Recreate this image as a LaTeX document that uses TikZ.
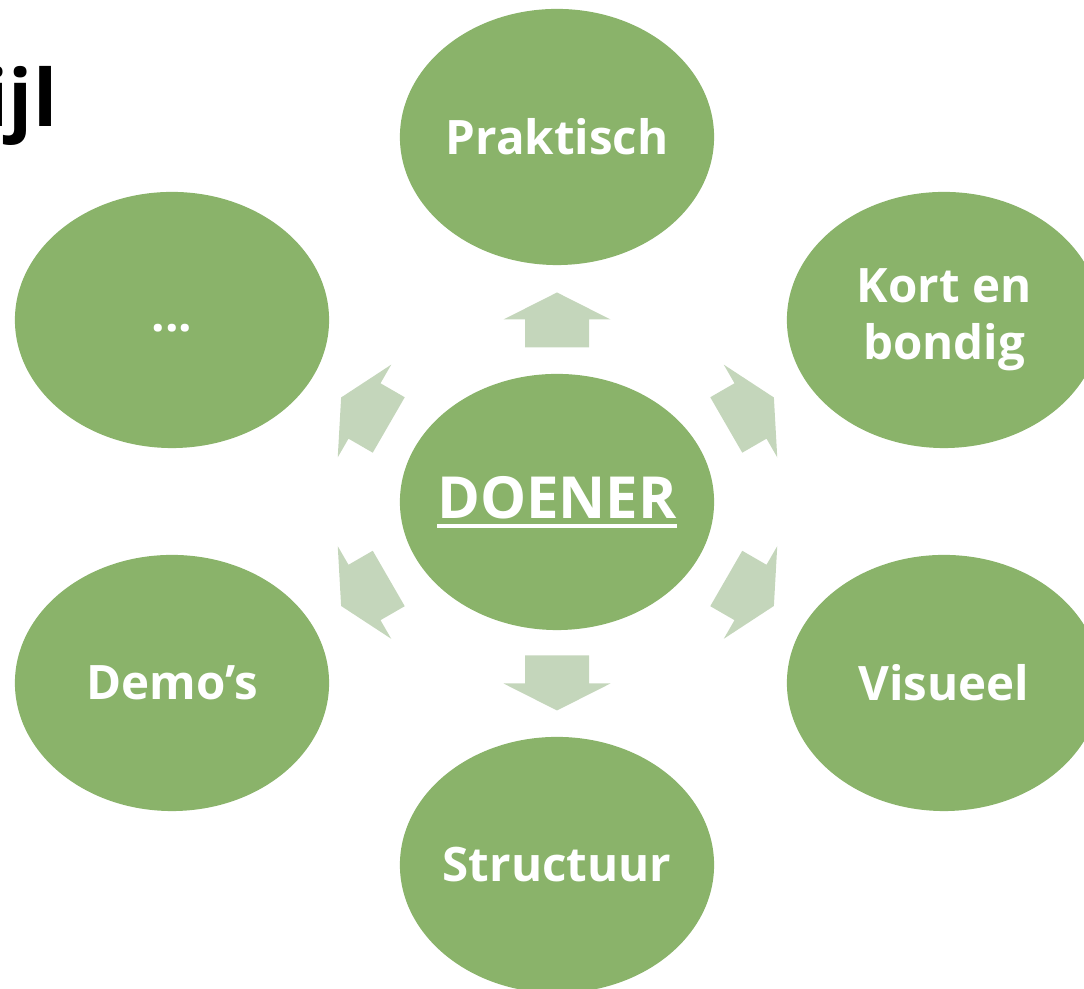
\documentclass[tikz,border=0pt]{standalone}
\usepackage{fontspec}
\setmainfont{Open Sans}
\usetikzlibrary{shapes.geometric,calc}
\definecolor{leafgreen}{HTML}{8AB36A}
\definecolor{palegreen}{HTML}{C4D6BB}
\tikzset{
	bol/.style={ellipse, fill=leafgreen, text=white, minimum width=3.14cm, minimum height=2.56cm, inner xsep=-8pt, inner ysep=0pt, align=center, font=\fontsize{13.5}{16.2}\selectfont\bfseries},
	pijl/.pic={\fill[palegreen] (-28,-32) -- (0,-32) -- (0,-53.5) -- (27,0) -- (0,53.5) -- (0,32) -- (-28,32) -- cycle;}
}
\newcommand\ulword[1]{\setbox0\hbox{#1}\rlap{\rule[-2.8pt]{\wd0}{1pt}}\box0}
\begin{document}
\begin{tikzpicture}[x=0.01cm,y=0.01cm]
		\useasboundingbox (0,0) rectangle (1084,989);
		\node(titel)[anchor=base east, inner sep=0pt, font=\fontsize{22.5}{27}\selectfont\bfseries] at (58,862) {ijl};

		\node(doener)[bol] at (557,487) {\fontsize{16.5}{19}\selectfont\ulword{DOENER}};
		\node(praktisch)[bol] at (557,852) {Praktisch};
		\node(kort)[bol] at (944,669) {Kort en\\bondig};
		\node(visueel)[bol] at (944,306) {Visueel};
		\node(structuur)[bol] at (557,124) {Structuur};
		\node(demos)[bol] at (172,306) {Demo’s};
		\node(meer)[bol] at (172,669) {...\vphantom{Kg}};

		\pic[rotate=90] at ($(doener)!0.5!(praktisch)$) {pijl};
		\pic[rotate=30] at ($(doener)!0.5!(kort)$) {pijl};
		\pic[rotate=-30] at ($(doener)!0.5!(visueel)$) {pijl};
		\pic[rotate=-90] at ($(doener)!0.5!(structuur)$) {pijl};
		\pic[rotate=210] at ($(doener)!0.5!(demos)$) {pijl};
		\pic[rotate=150] at ($(doener)!0.5!(meer)$) {pijl};
	\end{tikzpicture}
\end{document}
